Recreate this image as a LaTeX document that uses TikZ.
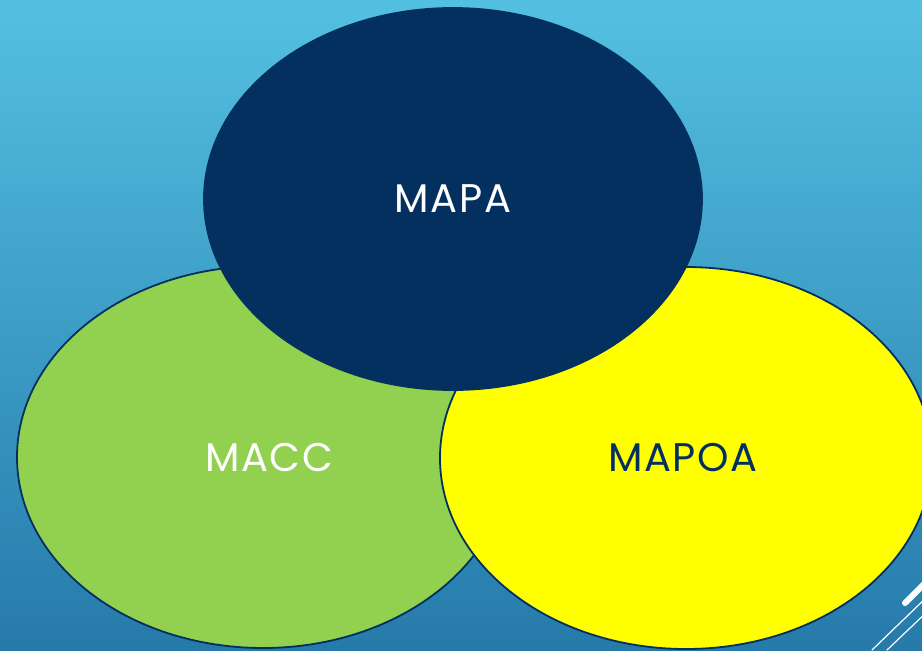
\documentclass[tikz,border=0pt]{standalone}
\usepackage{fontspec}
\setmainfont[LetterSpace=4]{Poppins}
\usetikzlibrary{shapes.geometric}
\definecolor{skytop}{RGB}{84,192,225}
\definecolor{skybottom}{RGB}{38,122,170}
\definecolor{mapanavy}{RGB}{4,48,96}
\definecolor{maccgreen}{RGB}{146,208,80}
\definecolor{mapoayellow}{RGB}{255,255,0}
\begin{document}
\begin{tikzpicture}[x=0.5pt,y=-0.5pt,
    blob/.style={ellipse,draw=mapanavy,line width=0.9pt,minimum width=246pt,minimum height=191pt,inner sep=0pt,font=\fontsize{20}{22}\selectfont},
    deco/.style={white,line cap=round}]
    \useasboundingbox (0,0) rectangle (922,650);
    \clip (0,0) rectangle (922,650);
    \shade[top color=skytop,bottom color=skybottom] (0,0) rectangle (922,650);
    % three circles
    \node[blob,fill=maccgreen,text=white] (macc) at (263,457) {\hspace*{6pt}MACC};
    \node[blob,fill=mapoayellow,text=mapanavy] (mapoa) at (686,458) {\hspace*{-3pt}MAPOA};
    \node[blob,fill=mapanavy,text=white,minimum width=249pt] (mapa) at (453,199) {MAPA};
    % corner lines
    \draw[deco,line width=3pt] (905,603) -- (930,578);
    \draw[deco,line width=0.6pt] (872,650) -- (930,594);
    \draw[deco,line width=0.6pt] (887,650) -- (930,609);
\end{tikzpicture}
\end{document}
